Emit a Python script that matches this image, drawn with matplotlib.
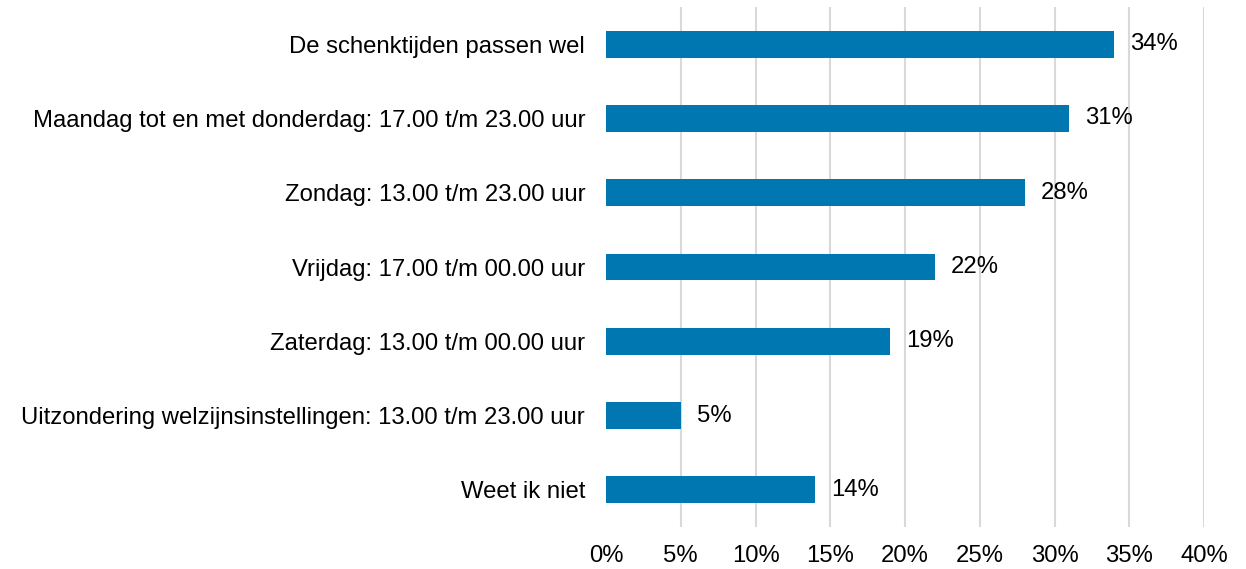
import matplotlib.pyplot as plt

plt.rcParams['font.family'] = ['Liberation Sans', 'DejaVu Sans']

# Antwoorden en percentages
categories = [
    'De schenktijden passen wel',
    'Maandag tot en met donderdag: 17.00 t/m 23.00 uur',
    'Zondag: 13.00 t/m 23.00 uur',
    'Vrijdag: 17.00 t/m 00.00 uur',
    'Zaterdag: 13.00 t/m 00.00 uur',
    'Uitzondering welzijnsinstellingen: 13.00 t/m 23.00 uur',
    'Weet ik niet',
]
values = [34, 31, 28, 22, 19, 5, 14]
ticks = [0, 5, 10, 15, 20, 25, 30, 35, 40]

fs = 17.2

fig = plt.figure(figsize=(12.46, 5.69), dpi=100)
ax = fig.add_axes([0.4864, 0.0738, 0.4799, 0.9139])

pos = list(range(len(categories)))
bars = ax.barh(pos, values, height=0.36, color='#0077B0', zorder=3)
for b, v in zip(bars, values):
    ax.annotate(f'{v}%', (b.get_width(), b.get_y() + b.get_height() / 2),
                xytext=(16, 0), textcoords='offset pixels',
                va='center', ha='left', fontsize=fs, color='black')

ax.set_yticks(pos)
ax.set_yticklabels(categories, fontsize=fs)
ax.set_ylim(len(categories) - 0.5, -0.5)
ax.set_xlim(0, 40)
ax.set_xticks(ticks)
ax.set_xticklabels([f'{t}%' for t in ticks], fontsize=fs)
ax.tick_params(axis='y', length=0, pad=15)
ax.tick_params(axis='x', length=0, pad=13)
ax.grid(axis='x', color='#D9D9D9', linewidth=1.5, zorder=0)
ax.get_xgridlines()[0].set_visible(False)
for s in ax.spines.values():
    s.set_visible(False)

fig.savefig('out.png', dpi=100)
